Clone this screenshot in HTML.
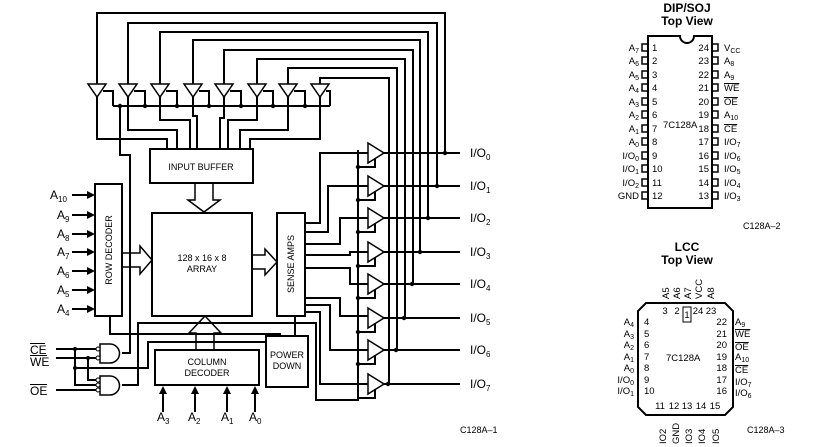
<!DOCTYPE html>
<html><head><meta charset="utf-8"><style>
html,body{margin:0;padding:0;background:#fff;}
svg{display:block;font-family:"Liberation Sans",Arial,sans-serif;}
</style></head><body>
<svg width="826" height="447" viewBox="0 0 826 447" xmlns="http://www.w3.org/2000/svg">
<g fill="none" stroke="#000" stroke-width="2">
<path d="M97,84 V13 H445 V153"/>
<path d="M128,84 V23 H437 V186"/>
<path d="M160,84 V32 H428 V218"/>
<path d="M193,84 V40 H420 V252"/>
<path d="M224,84 V50 H413 V284"/>
<path d="M257,84 V59 H405 V318"/>
<path d="M288,84 V68 H397 V350"/>
<path d="M320,84 V78 H389 V384"/>
<g stroke-width="1.5">
<path d="M88,84 H106 L97,97 Z"/><path d="M119,84 H137 L128,97 Z"/><path d="M151,84 H169 L160,97 Z"/><path d="M184,84 H202 L193,97 Z"/>
<path d="M215,84 H233 L224,97 Z"/><path d="M248,84 H266 L257,97 Z"/><path d="M279,84 H297 L288,97 Z"/><path d="M311,84 H329 L320,97 Z"/>
</g>
<path d="M113,106 H330"/>
<path d="M103,91 H113 V106 M134,91 H145 V106 M166,91 H177 V106 M199,91 H209 V106 M230,91 H241 V106 M263,91 H273 V106 M294,91 H305 V106 M326,91 H330 V106"/>
<path d="M120,106 V155 H130 V353 H122"/>
<path d="M97,97 V139 H167 V149"/><path d="M128,97 V130 H177 V149"/><path d="M160,97 V120 H190 V149"/><path d="M193,97 V116 H197 V149"/>
<path d="M224,97 V118 H220 V149"/><path d="M257,97 V120 H228 V149"/><path d="M288,97 V130 H240 V149"/><path d="M320,97 V139 H250 V149"/>
<rect x="150" y="149" width="103" height="34"/>
<rect x="152" y="213" width="100" height="103"/>
<rect x="95" y="184" width="27" height="132"/>
<rect x="277" y="213" width="28" height="103"/>
<rect x="155" y="350" width="104" height="35"/>
<rect x="266" y="336" width="42" height="51"/>
<path stroke-width="1.5" d="M195,183 V200 H188 L204,212 L220,200 H213 V183"/>
<path stroke-width="1.5" d="M122,253 H140 V246 L152,260 L140,274 V267 H122"/>
<path stroke-width="1.5" d="M252,255 H265 V249 L277,262 L265,275 V269 H252"/>
<path stroke-width="1.5" d="M196,350 V333 H189 L205,316 L221,333 H214 V350"/>
<path d="M72,195 H90 M72,215 H90 M72,234 H90 M72,252 H90 M72,271 H90 M72,290 H90 M72,309 H90"/>
<path d="M163,412 V392 M195,412 V392 M227,412 V392 M255,412 V392"/>
<path d="M56,349 H97 M56,358 H97 M56,390 H97"/>
<path d="M75,349 V385 H97 M88,358 V380 H97"/>
<path d="M75,368 H148 V342 H266"/>
<path d="M122,385 H138 V323 H316 V400 H358 V150"/>
<path d="M110,316 V334 H280 V336"/>
<path d="M295,316 V336"/>
<path stroke-width="1.5" d="M100,344 H110 A9.5,9.5 0 0 1 110,363 H100 Z"/>
<path stroke-width="1.5" d="M100,376 H110 A9.5,9.5 0 0 1 110,395 H100 Z"/>
<path d="M305,223 H320 V153 H368 M305,232 H328 V186 H368 M305,244 H340 V218 H368 M305,255 H350 V252 H368 M305,268 H350 V284 H368 M305,298 H340 V316 H368 M305,305 H330 V350 H368 M305,312 H320 V384 H368"/>
<path d="M383,153 H460 M383,186 H460 M383,218 H460 M383,252 H460 M383,284 H460 M383,318 H460 M383,350 H460 M383,384 H460"/>
<g stroke-width="1.5">
<path d="M368,143 L384,153 L368,163 Z"/><path d="M368,176 L384,186 L368,196 Z"/><path d="M368,208 L384,218 L368,228 Z"/><path d="M368,242 L384,252 L368,262 Z"/>
<path d="M368,274 L384,284 L368,294 Z"/><path d="M368,308 L384,318 L368,328 Z"/><path d="M368,340 L384,350 L368,360 Z"/><path d="M368,374 L384,384 L368,394 Z"/>
</g>
<path d="M358,167 H375 V158 M358,200 H375 V191 M358,232 H375 V223 M358,266 H375 V257 M358,298 H375 V289 M358,332 H375 V323 M358,364 H375 V355 M358,398 H375 V389"/>
</g>
<g fill="#000">
<path d="M95,195 l-8,-4 v8z M95,215 l-8,-4 v8z M95,234 l-8,-4 v8z M95,252 l-8,-4 v8z M95,271 l-8,-4 v8z M95,290 l-8,-4 v8z M95,309 l-8,-4 v8z"/>
<path d="M163,386 l-4,8 h8z M195,386 l-4,8 h8z M227,386 l-4,8 h8z M255,386 l-4,8 h8z"/>
<circle cx="120" cy="106" r="2.2"/><circle cx="145" cy="106" r="2.2"/><circle cx="177" cy="106" r="2.2"/><circle cx="209" cy="106" r="2.2"/><circle cx="241" cy="106" r="2.2"/><circle cx="273" cy="106" r="2.2"/><circle cx="305" cy="106" r="2.2"/>
<circle cx="445" cy="153" r="2.2"/><circle cx="437" cy="186" r="2.2"/><circle cx="428" cy="218" r="2.2"/><circle cx="420" cy="252" r="2.2"/><circle cx="412" cy="284" r="2.2"/><circle cx="404" cy="318" r="2.2"/><circle cx="396" cy="350" r="2.2"/><circle cx="388" cy="384" r="2.2"/>
<circle cx="358" cy="167" r="2.2"/><circle cx="358" cy="200" r="2.2"/><circle cx="358" cy="232" r="2.2"/><circle cx="358" cy="266" r="2.2"/><circle cx="358" cy="298" r="2.2"/><circle cx="358" cy="332" r="2.2"/><circle cx="358" cy="364" r="2.2"/>
<circle cx="75" cy="349" r="2"/><circle cx="88" cy="358" r="2"/><circle cx="75" cy="368" r="2"/>
</g>
<g fill="#fff" stroke="#000" stroke-width="1"><circle cx="98" cy="349" r="2"/><circle cx="98" cy="358" r="2"/><circle cx="98" cy="380" r="2"/><circle cx="98" cy="390" r="2"/><circle cx="98" cy="385" r="2"/></g>
<g font-size="9" text-anchor="middle">
<text x="201" y="170">INPUT BUFFER</text>
<text x="202" y="261">128 x 16 x 8</text><text x="202" y="272">ARRAY</text>
<text x="207" y="365">COLUMN</text><text x="207" y="376">DECODER</text>
<text x="287" y="358">POWER</text><text x="287" y="369">DOWN</text>
<text transform="translate(112,250) rotate(-90)">ROW DECODER</text>
<text transform="translate(294,264) rotate(-90)">SENSE AMPS</text>
</g>
<g font-size="12">
<text x="50" y="199">A<tspan font-size="8" dy="3">10</tspan></text>
<text x="57" y="219">A<tspan font-size="8" dy="3">9</tspan></text>
<text x="57" y="238">A<tspan font-size="8" dy="3">8</tspan></text>
<text x="57" y="256">A<tspan font-size="8" dy="3">7</tspan></text>
<text x="57" y="275">A<tspan font-size="8" dy="3">6</tspan></text>
<text x="57" y="294">A<tspan font-size="8" dy="3">5</tspan></text>
<text x="57" y="313">A<tspan font-size="8" dy="3">4</tspan></text>
<text x="157" y="421">A<tspan font-size="8" dy="3">3</tspan></text>
<text x="188" y="421">A<tspan font-size="8" dy="3">2</tspan></text>
<text x="221" y="421">A<tspan font-size="8" dy="3">1</tspan></text>
<text x="249" y="421">A<tspan font-size="8" dy="3">0</tspan></text>
<text x="30" y="354">CE</text><text x="30" y="366">WE</text><text x="30" y="395">OE</text>
<text x="470" y="157">I/O<tspan font-size="8" dy="3">0</tspan></text>
<text x="470" y="190">I/O<tspan font-size="8" dy="3">1</tspan></text>
<text x="470" y="222">I/O<tspan font-size="8" dy="3">2</tspan></text>
<text x="470" y="256">I/O<tspan font-size="8" dy="3">3</tspan></text>
<text x="470" y="288">I/O<tspan font-size="8" dy="3">4</tspan></text>
<text x="470" y="322">I/O<tspan font-size="8" dy="3">5</tspan></text>
<text x="470" y="354">I/O<tspan font-size="8" dy="3">6</tspan></text>
<text x="470" y="388">I/O<tspan font-size="8" dy="3">7</tspan></text>
</g>
<path stroke="#000" stroke-width="1" d="M30,343.5 H45 M30,355.5 H47 M30,384.5 H47"/>
<g font-size="9"><text x="460" y="433">C128A–1</text><text x="743" y="229">C128A–2</text><text x="747" y="433">C128A–3</text></g>
<g font-size="12" font-weight="bold" text-anchor="middle"><text x="687" y="12">DIP/SOJ</text><text x="687" y="25">Top View</text><text x="687" y="251">LCC</text><text x="687" y="264">Top View</text></g>
<path fill="none" stroke="#000" stroke-width="2" d="M648,36 H680 A7,7 0 0 0 694,36 H712 V208 H648 Z"/>
<g fill="none" stroke="#000" stroke-width="1.5">
<rect x="642" y="44" width="6" height="7"/><rect x="642" y="57" width="6" height="7"/><rect x="642" y="71" width="6" height="7"/><rect x="642" y="84" width="6" height="7"/><rect x="642" y="98" width="6" height="7"/><rect x="642" y="111" width="6" height="7"/><rect x="642" y="125" width="6" height="7"/><rect x="642" y="138" width="6" height="7"/><rect x="642" y="152" width="6" height="7"/><rect x="642" y="165" width="6" height="7"/><rect x="642" y="179" width="6" height="7"/><rect x="642" y="192" width="6" height="7"/>
<rect x="712" y="44" width="6" height="7"/><rect x="712" y="57" width="6" height="7"/><rect x="712" y="71" width="6" height="7"/><rect x="712" y="84" width="6" height="7"/><rect x="712" y="98" width="6" height="7"/><rect x="712" y="111" width="6" height="7"/><rect x="712" y="125" width="6" height="7"/><rect x="712" y="138" width="6" height="7"/><rect x="712" y="152" width="6" height="7"/><rect x="712" y="165" width="6" height="7"/><rect x="712" y="179" width="6" height="7"/><rect x="712" y="192" width="6" height="7"/>
</g>
<g font-size="9.5">
<g text-anchor="start"><text x="652" y="51">1</text><text x="652" y="64">2</text><text x="652" y="78">3</text><text x="652" y="91">4</text><text x="652" y="105">5</text><text x="652" y="118">6</text><text x="652" y="132">7</text><text x="652" y="145">8</text><text x="652" y="159">9</text><text x="652" y="172">10</text><text x="652" y="186">11</text><text x="652" y="199">12</text>
<text x="724" y="51">V<tspan font-size="7" dy="2">CC</tspan></text><text x="724" y="64">A<tspan font-size="7" dy="2">8</tspan></text><text x="724" y="78">A<tspan font-size="7" dy="2">9</tspan></text><text x="724" y="91" text-decoration="overline">WE</text><text x="724" y="105" text-decoration="overline">OE</text><text x="724" y="118">A<tspan font-size="7" dy="2">10</tspan></text><text x="724" y="132" text-decoration="overline">CE</text><text x="724" y="145">I/O<tspan font-size="7" dy="2">7</tspan></text><text x="724" y="159">I/O<tspan font-size="7" dy="2">6</tspan></text><text x="724" y="172">I/O<tspan font-size="7" dy="2">5</tspan></text><text x="724" y="186">I/O<tspan font-size="7" dy="2">4</tspan></text><text x="724" y="199">I/O<tspan font-size="7" dy="2">3</tspan></text>
<text x="663" y="128">7C128A</text></g>
<g text-anchor="end"><text x="709" y="51">24</text><text x="709" y="64">23</text><text x="709" y="78">22</text><text x="709" y="91">21</text><text x="709" y="105">20</text><text x="709" y="118">19</text><text x="709" y="132">18</text><text x="709" y="145">17</text><text x="709" y="159">16</text><text x="709" y="172">15</text><text x="709" y="186">14</text><text x="709" y="199">13</text>
<text x="639" y="51">A<tspan font-size="7" dy="2">7</tspan></text><text x="639" y="64">A<tspan font-size="7" dy="2">6</tspan></text><text x="639" y="78">A<tspan font-size="7" dy="2">5</tspan></text><text x="639" y="91">A<tspan font-size="7" dy="2">4</tspan></text><text x="639" y="105">A<tspan font-size="7" dy="2">3</tspan></text><text x="639" y="118">A<tspan font-size="7" dy="2">2</tspan></text><text x="639" y="132">A<tspan font-size="7" dy="2">1</tspan></text><text x="639" y="145">A<tspan font-size="7" dy="2">0</tspan></text><text x="639" y="159">I/O<tspan font-size="7" dy="2">0</tspan></text><text x="639" y="172">I/O<tspan font-size="7" dy="2">1</tspan></text><text x="639" y="186">I/O<tspan font-size="7" dy="2">2</tspan></text><text x="639" y="199">GND</text></g>
</g>
<path fill="none" stroke="#000" stroke-width="2" d="M646,303 H725 L733,311 V407 L725,415 H646 L638,407 V311 Z"/>
<rect x="683" y="307" width="8" height="15" fill="none" stroke="#000" stroke-width="1"/>
<g font-size="9.5">
<g text-anchor="middle"><text x="665" y="314">3</text><text x="677" y="314">2</text><text x="687" y="318">1</text><text x="698" y="314">24</text><text x="711" y="314">23</text>
<text x="660" y="409">11</text><text x="674" y="409">12</text><text x="687" y="409">13</text><text x="701" y="409">14</text><text x="715" y="409">15</text></g>
<text x="644" y="325">4</text><text x="644" y="337">5</text><text x="644" y="348">6</text><text x="644" y="360">7</text><text x="644" y="371">8</text><text x="644" y="383">9</text><text x="644" y="394">10</text>
<g text-anchor="end"><text x="727" y="325">22</text><text x="727" y="337">21</text><text x="727" y="348">20</text><text x="727" y="360">19</text><text x="727" y="371">18</text><text x="727" y="383">17</text><text x="727" y="394">16</text>
<text x="634" y="325">A<tspan font-size="7" dy="2">4</tspan></text><text x="634" y="337">A<tspan font-size="7" dy="2">3</tspan></text><text x="634" y="348">A<tspan font-size="7" dy="2">2</tspan></text><text x="634" y="360">A<tspan font-size="7" dy="2">1</tspan></text><text x="634" y="371">A<tspan font-size="7" dy="2">0</tspan></text><text x="634" y="383">I/O<tspan font-size="7" dy="2">0</tspan></text><text x="634" y="394">I/O<tspan font-size="7" dy="2">1</tspan></text></g>
<text x="735" y="325">A<tspan font-size="7" dy="2">9</tspan></text><text x="735" y="337" text-decoration="overline">WE</text><text x="735" y="350" text-decoration="overline">OE</text><text x="735" y="360">A<tspan font-size="7" dy="2">10</tspan></text><text x="735" y="373" text-decoration="overline">CE</text><text x="735" y="385">I/O<tspan font-size="7" dy="2">7</tspan></text><text x="735" y="396">I/O<tspan font-size="7" dy="2">6</tspan></text>
<text x="666" y="361">7C128A</text>
<text transform="translate(669,299) rotate(-90)">A5</text><text transform="translate(680,299) rotate(-90)">A6</text><text transform="translate(691,299) rotate(-90)">A7</text><text transform="translate(702,299) rotate(-90)">VCC</text><text transform="translate(714,299) rotate(-90)">A8</text>
<text transform="translate(666,444) rotate(-90)">IO2</text><text transform="translate(679,444) rotate(-90)">GND</text><text transform="translate(692,444) rotate(-90)">IO3</text><text transform="translate(705,444) rotate(-90)">IO4</text><text transform="translate(719,444) rotate(-90)">IO5</text>
</g>
</svg>
</body></html>
